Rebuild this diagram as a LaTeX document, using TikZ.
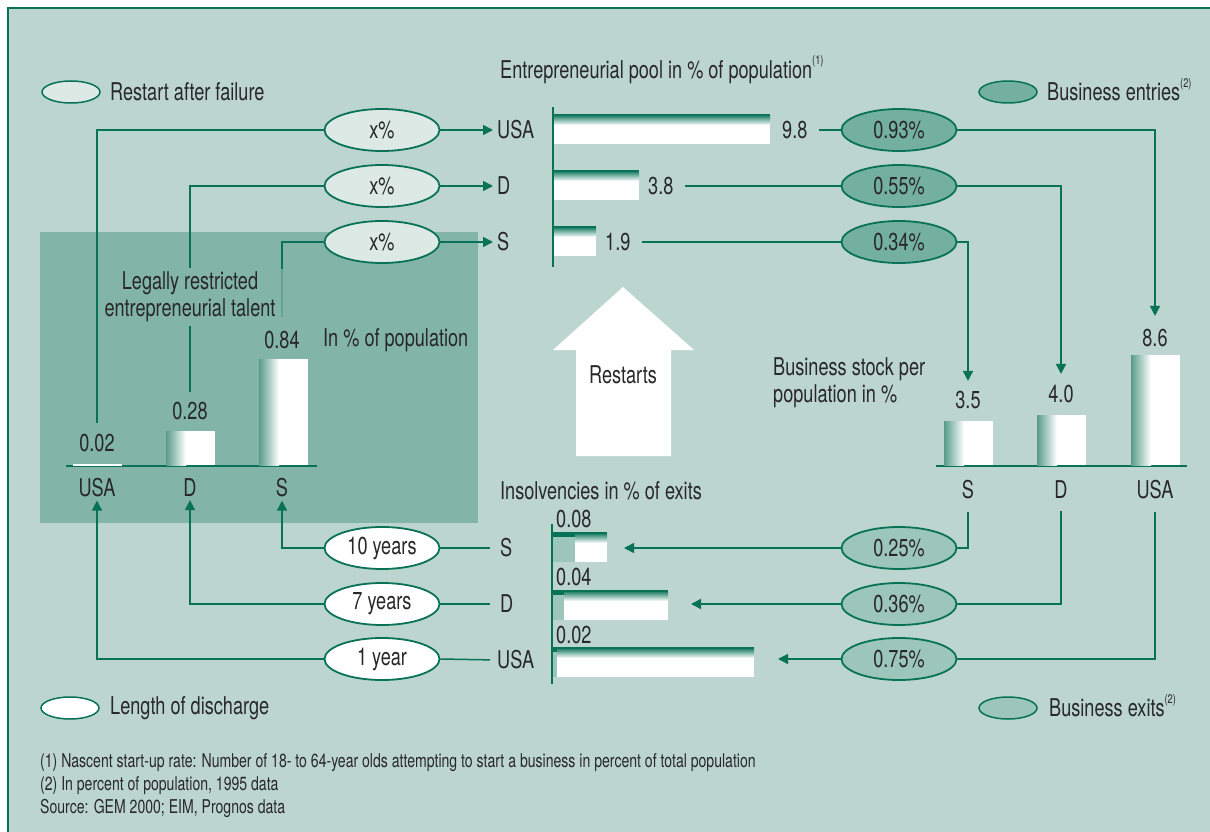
\documentclass[tikz,border=0pt]{standalone}
\usepackage{fontspec}
\setmainfont[FakeStretch=0.74]{TeX Gyre Heros}
\usetikzlibrary{shapes.geometric,arrows.meta}
\definecolor{bg}{RGB}{188,214,207}
\definecolor{boxC}{RGB}{130,181,168}
\definecolor{dg}{RGB}{8,114,86}
\definecolor{lightE}{RGB}{220,233,229}
\definecolor{entryC}{RGB}{116,176,159}
\definecolor{exitC}{RGB}{156,198,186}
\definecolor{barL}{RGB}{88,156,136}
\definecolor{txt}{RGB}{40,40,40}
\newcommand\fnmark[1]{\smash{\raisebox{0.55em}{\fontsize{12.5}{12.5}\selectfont #1}}}
\begin{document}
\begin{tikzpicture}[x=1pt,y=-1pt,
  every node/.style={font=\fontsize{24.5}{28}\selectfont, text=txt, inner sep=0pt},
  conn/.style={draw=dg, line width=1.5pt},
  arrowed/.style={-{Triangle[length=10pt,width=10pt]}},
  oval/.style={ellipse, draw=dg, line width=1.8pt, minimum width=115pt, minimum height=42pt},
  restartE/.style={oval, fill=lightE},
  entryE/.style={oval, fill=entryC},
  exitE/.style={oval, fill=exitC},
  dischE/.style={oval, fill=white},
  legendsize/.style={minimum width=58pt, minimum height=22pt, line width=1.5pt},
  foot/.style={font=\fontsize{19}{22}\selectfont, anchor=west}
]
\useasboundingbox (0,0) rectangle (1210,832);
\fill[white] (0,0) rectangle (1210,832);
\filldraw[fill=bg, draw=dg, line width=1.5pt] (8,8) rectangle (1220,842);
\fill[boxC] (40,232) rectangle (478,523);

% ---------- legends ----------
\node[restartE, legendsize] (legR) at (71,92) {};
\node[anchor=west] (legRt) at (110,92) {Restart after failure};
\node[entryE, legendsize] (legE) at (1008,92) {};
\node[anchor=west] (legEt) at (1047,92) {Business entries\fnmark{(2)}};
\node[dischE, legendsize] (legD) at (70,708) {};
\node[anchor=west] (legDt) at (110,708) {Length of discharge};
\node[exitE, legendsize] (legX) at (1008,708) {};
\node[anchor=west] (legXt) at (1049,708) {Business exits\fnmark{(2)}};

% ---------- entrepreneurial pool ----------
\node[anchor=west] (title) at (500,72) {Entrepreneurial pool in \% of population\fnmark{(1)}};
\draw[dg, line width=1.5pt] (553,107) -- (553,267);
\foreach \ya/\xb in {114/770,170/639,226/596}{
  \fill[white] (554,\ya) rectangle (\xb,\ya+30);
  \fill[dg] (554,\ya) rectangle (\xb,\ya+2);
  \shade[top color=dg!85, bottom color=white] (554,\ya+2) rectangle (\xb,\ya+11);
}
\node[anchor=west] (v98) at (782,130) {9.8};
\node[anchor=west] (v38) at (648,186) {3.8};
\node[anchor=west] (v19) at (605,242) {1.9};

\node[anchor=west] (cUSA) at (497,130) {USA};
\node[anchor=west] (cD) at (497,186) {D};
\node[anchor=west] (cS) at (497,242) {S};

\node[restartE] (rUSA) at (382,130) {x\%};
\node[restartE] (rD) at (382,186) {x\%};
\node[restartE] (rS) at (382,242) {x\%};

\node[entryE] (eUSA) at (899,130) {0.93\%};
\node[entryE] (eD) at (899,186) {0.55\%};
\node[entryE] (eS) at (899,242) {0.34\%};

\draw[conn, arrowed, shorten >=4pt] (rUSA.east) -- (cUSA.west);
\draw[conn, arrowed, shorten >=4pt] (rD.east) -- (cD.west);
\draw[conn, arrowed, shorten >=4pt] (rS.east) -- (cS.west);
\draw[conn, shorten <=11pt] (v98.east) -- (eUSA.west);
\draw[conn, shorten <=11pt] (v38.east) -- (eD.west);
\draw[conn, shorten <=11pt] (v19.east) -- (eS.west);

% ---------- restarts arrow ----------
\fill[white] (623,287) -- (694,350) -- (671,350) -- (671,456) -- (576,456) -- (576,350) -- (553,350) -- cycle;
\node (restarts) at (623,375) {Restarts};

% ---------- business stock ----------
\node[anchor=west, align=left, font=\fontsize{24.5}{27}\selectfont] (stockT) at (773,383) {Business stock per\\population in \%};
\draw[dg, line width=1.5pt] (936,466) -- (1187,466);
\foreach \xa/\yt in {944/421,1037/415,1131/355}{
  \fill[white] (\xa,\yt) rectangle (\xa+49,465);
  \shade[left color=barL, right color=white] (\xa,\yt) rectangle (\xa+20,465);
}
\node (v35) at (968,400) {3.5};
\node (v40) at (1061,394) {4.0};
\node (v86) at (1155,338) {8.6};
\node (bS) at (968,490) {S};
\node (bD) at (1061,490) {D};
\node (bUSA) at (1155,490) {USA};
\draw[conn, arrowed] (eUSA.east) -| ([yshift=13pt]v86.north);
\draw[conn, arrowed] (eD.east) -| ([yshift=11pt]v40.north);
\draw[conn, arrowed] (eS.east) -| ([yshift=10pt]v35.north);

% ---------- exits ----------
\node[exitE] (xS) at (899,548) {0.25\%};
\node[exitE] (xD) at (899,604) {0.36\%};
\node[exitE] (xUSA) at (899,659) {0.75\%};
\draw[conn] ([yshift=-12pt]bS.south) |- (xS.east);
\draw[conn] ([yshift=-12pt]bD.south) |- (xD.east);
\draw[conn] ([yshift=-12pt]bUSA.south) |- (xUSA.east);
\coordinate (iSend) at (624,548);
\coordinate (iDend) at (691,604);
\coordinate (iUSAend) at (778,659);
\draw[conn, arrowed] (xS.west) -- (iSend);
\draw[conn, arrowed] (xD.west) -- (iDend);
\draw[conn, arrowed] (xUSA.west) -- (iUSAend);

% ---------- insolvencies ----------
\node (insT) at (601,491) {Insolvencies in \% of exits};
\foreach \ya/\xb/\xs in {532/607/575,590/668/564,647/754/557}{
  \fill[white] (553,\ya) rectangle (\xb,\ya+30);
  \fill[dg] (553,\ya) rectangle (\xb,\ya+2);
  \shade[top color=dg!85, bottom color=white] (553,\ya+2) rectangle (\xb,\ya+11);
  \fill[exitC] (553,\ya+5) rectangle (\xs,\ya+30);
  \fill[dg] (553,\ya) rectangle (\xs,\ya+5);
}
\draw[dg, line width=1.5pt] (552,524) -- (552,684);
\node[anchor=west] (i008) at (556,519) {0.08};
\node[anchor=west] (i004) at (556,577) {0.04};
\node[anchor=west] (i002) at (556,635) {0.02};
\node[anchor=west] (dS) at (500,548) {S};
\node[anchor=west] (dD) at (500,604) {D};
\node[anchor=west] (dUSA) at (497,660) {USA};

\node[dischE] (d10) at (382,548) {10 years};
\node[dischE] (d7) at (382,604) {7 years};
\node[dischE] (d1) at (382,659) {1 year};
\draw[conn, shorten <=10pt] (dS.west) -- (d10.east);
\draw[conn, shorten <=10pt] (dD.west) -- (d7.east);
\draw[conn, shorten <=7pt] (dUSA.west) -- (d1.east);

% ---------- legally restricted ----------
\draw[dg, line width=1.5pt] (66,466) -- (317,466);
\fill[white] (73,463.5) rectangle (122,466);
\foreach \xa/\yt in {166/431,259/359}{
  \fill[white] (\xa,\yt) rectangle (\xa+49,465);
  \shade[left color=barL, right color=white] (\xa,\yt) rectangle (\xa+20,465);
}
\node (l002) at (97,443) {0.02};
\node (l028) at (190,411) {0.28};
\node (l084) at (282,340) {0.84};
\node[anchor=west] (inpop) at (323,340) {In \% of population};
\node (lUSA) at (97,488) {USA};
\node (lD) at (190,488) {D};
\node (lS) at (282,488) {S};
\node[align=center, font=\fontsize{24.5}{27}\selectfont] (legal) at (190,297) {Legally restricted\\entrepreneurial talent};

\draw[conn] (rUSA.west) -| ([yshift=11pt]l002.north);
\draw[conn] (rD.west) -| ([yshift=4pt]legal.north);
\draw[conn] ([yshift=-4pt]legal.south) -- ([yshift=10pt]l028.north);
\coordinate (sEnd) at (282,269);
\draw[conn] (rS.west) -| (sEnd);
\draw[dg, line width=1.5pt, opacity=0.25] (sEnd) -- (282,317);

\draw[conn, arrowed] (d10.west) -| ([yshift=-3pt]lS.south);
\draw[conn, arrowed] (d7.west) -| ([yshift=-3pt]lD.south);
\draw[conn, arrowed] (d1.west) -| ([yshift=-3pt]lUSA.south);

% ---------- footnotes ----------
\node[foot] (fn1) at (40,763) {(1) Nascent start-up rate: Number of 18- to 64-year olds attempting to start a business in percent of total population};
\node[foot] (fn2) at (40,786) {(2) In percent of population, 1995 data};
\node[foot] (fn3) at (40,808) {Source: GEM 2000; EIM, Prognos data};
\end{tikzpicture}
\end{document}
